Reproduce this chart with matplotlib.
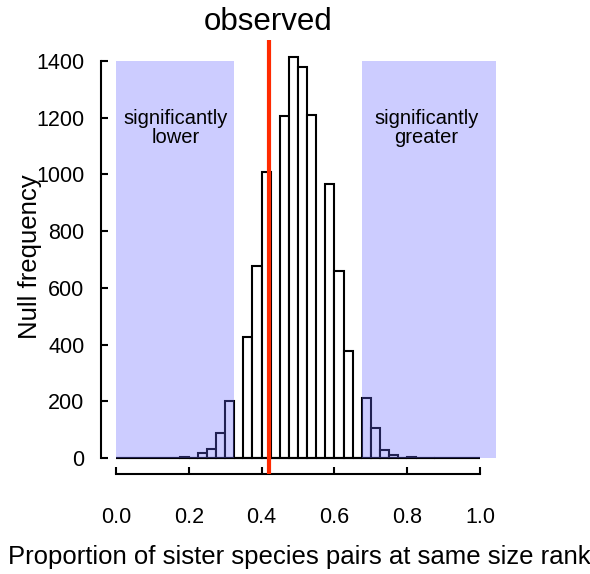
import matplotlib.pyplot as plt
import numpy as np

plt.rcParams['font.family'] = ['Liberation Sans', 'DejaVu Sans']

# histogram bins (left edges, width 0.025) and null counts
bin_width = 0.025
bin_left = np.arange(0, 1.0, bin_width)
counts = [0, 0, 0, 0, 0, 0, 0, 5, 0, 16,
          31, 87, 200, 0, 428, 677, 1007, 0, 1205, 1413,
          1378, 1209, 0, 967, 659, 376, 0, 211, 105, 28,
          12, 0, 4, 0, 0, 0, 0, 0, 0, 0]
observed = 0.42
lower_cut = 0.325
upper_cut = 0.675
xticks = [0.0, 0.2, 0.4, 0.6, 0.8, 1.0]
yticks = [0, 200, 400, 600, 800, 1000, 1200, 1400]

fig = plt.figure(figsize=(5.9, 5.74), dpi=100)
# axes box in pixels: left 101, right 497, top 40, bottom 474
ax = fig.add_axes([101/590, 1 - 474/574, 396/590, 434/574])
px_x = 1/364
px_y = 1400/397
ax.set_xlim(0 - 15*px_x, 1 + 17*px_x)
ax.set_ylim(0 - 16*px_y, 1400 + 21*px_y)

ax.bar(bin_left, counts, width=bin_width, align='edge', facecolor='white',
       edgecolor='black', linewidth=1.5, zorder=2)
ax.hlines(0, 0, 1, color='black', linewidth=1.5, zorder=2)

# shaded significance regions drawn over the bars
ax.fill_between([0, lower_cut], 0, 1400, color='#6666ff', alpha=0.33,
                linewidth=0, zorder=3)
ax.fill_between([upper_cut, 1 + 0.043], 0, 1400, color='#6666ff', alpha=0.33,
                linewidth=0, zorder=3)

ax.axvline(observed, ymin=0.005, ymax=0.995, color='#ff2a00', linewidth=3, zorder=4)

ax.text(0.165, 1165, 'significantly\nlower', ha='center', va='center',
        fontsize=14.5, linespacing=1.0, zorder=5)
ax.text(0.852, 1165, 'significantly\ngreater', ha='center', va='center',
        fontsize=14.5, linespacing=1.0, zorder=5)
fig.text(268/590, 1 - 22/574, 'observed', ha='center', va='center', fontsize=22.5)

for s in ['top', 'right']:
    ax.spines[s].set_visible(False)
ax.spines['left'].set_bounds(0, 1400)
ax.spines['bottom'].set_bounds(0, 1)
ax.spines['left'].set_linewidth(1.5)
ax.spines['bottom'].set_linewidth(1.5)

ax.set_xticks(xticks)
ax.set_xticklabels(['%.1f' % t for t in xticks])
ax.set_yticks(yticks)
ax.tick_params(axis='x', direction='in', length=5, width=1.5, pad=24, labelsize=15.5)
ax.tick_params(axis='y', direction='in', length=5, width=1.5, pad=12, labelsize=15.5)

ax.set_xlabel('Proportion of sister species pairs at same size rank', fontsize=18.5, labelpad=12)
ax.set_ylabel('Null frequency', fontsize=18.5, labelpad=-4)

plt.savefig('out.png')
